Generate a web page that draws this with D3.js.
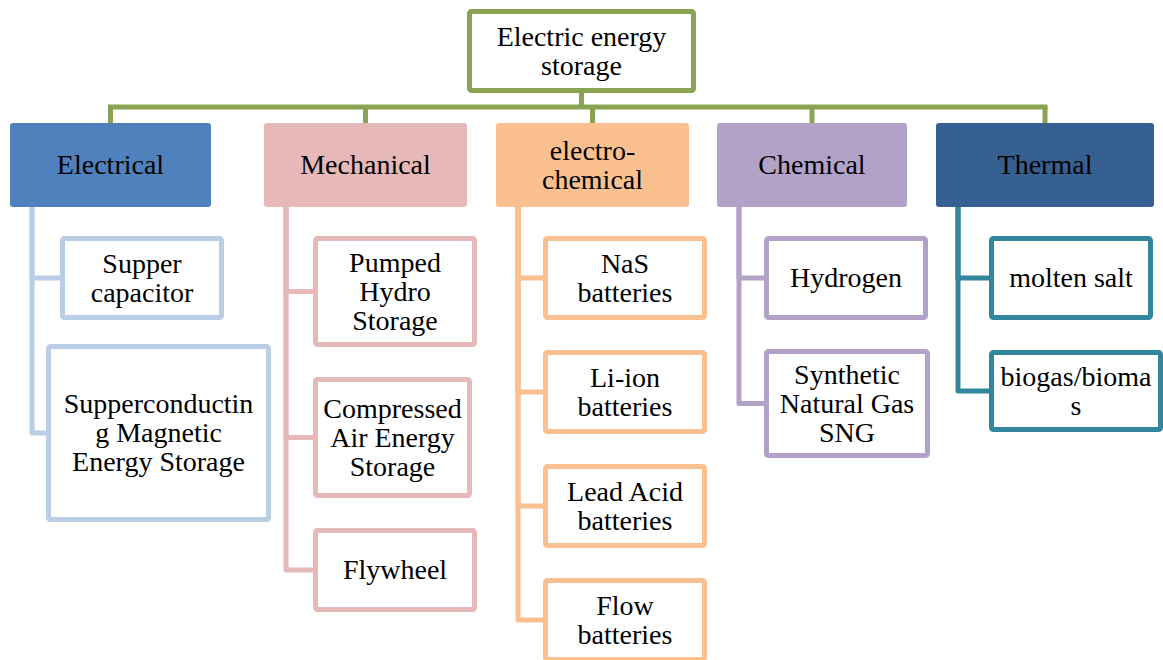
<!DOCTYPE html>
<html>
<head>
<meta charset="utf-8">
<script src="https://cdn.jsdelivr.net/npm/d3@7"></script>
<style>
  body { margin: 0; background: #fff; }
  svg text { font-family: "Liberation Serif", serif; font-size: 28px; fill: #000; }
</style>
</head>
<body>
<div id="chart"></div>
<script>
// labels ("\n" = line break as wrapped in the original boxes)
const rootLabel = "Electric energy\nstorage";
const categories = ["Electrical", "Mechanical", "electro-\nchemical", "Chemical", "Thermal"];
const electricalItems = ["Supper\ncapacitor", "Supperconductin\ng Magnetic\nEnergy Storage"];
const mechanicalItems = ["Pumped\nHydro\nStorage", "Compressed\nAir Energy\nStorage", "Flywheel"];
const electrochemicalItems = ["NaS\nbatteries", "Li-ion\nbatteries", "Lead Acid\nbatteries", "Flow\nbatteries"];
const chemicalItems = ["Hydrogen", "Synthetic\nNatural Gas\nSNG"];
const thermalItems = ["molten salt", "biogas/bioma\ns"];
const itemsByCategory = [electricalItems, mechanicalItems, electrochemicalItems, chemicalItems, thermalItems];

// layout / style
const width = 1163, height = 660;
const colX = d3.scaleOrdinal().domain(categories).range([10, 264, 496, 717, 936]);
const colW = d3.scaleOrdinal().domain(categories).range([201, 203, 193, 190, 218]);
const colGap = d3.scaleOrdinal().domain(categories).range([24, 30, 30, 29, 30]);
const childDx = d3.scaleOrdinal().domain(categories).range([50, 49, 47, 47, 53]);
const fill = d3.scaleOrdinal().domain(categories).range(["#4F81BD", "#E6B9B8", "#FAC090", "#B3A2C7", "#376092"]);
const branch = d3.scaleOrdinal().domain(categories).range(["#B9CDE5", "#E6B9B8", "#FAC090", "#B3A2C7", "#31859C"]);
const rootColor = "#8AA352";
const sw = 5, lineH = 29, baseOff = 9;
const catTop = 123, catH = 84, rowTop = 236, busY = 107;
const boxOverride = {
  "Supperconductin\ng Magnetic\nEnergy Storage": { dx: 36, w: 225, h: 178 },
  "Compressed\nAir Energy\nStorage": { w: 159, h: 121 },
  "Synthetic\nNatural Gas\nSNG": { w: 166, h: 109 },
  "biogas/bioma\ns": { w: 174, h: 82 }
};

const svg = d3.select("#chart").append("svg")
  .attr("width", width).attr("height", height);

function addText(g, label, cx, cy) {
  const lines = label.split("\n");
  g.append("text")
    .attr("text-anchor", "middle")
    .selectAll("tspan").data(lines).join("tspan")
    .attr("x", cx)
    .attr("y", (d, i) => cy + baseOff + (i - (lines.length - 1) / 2) * lineH)
    .text(d => d);
}

// root
const root = { x: 467, y: 9, w: 229, h: 84 };
const rootCx = root.x + root.w / 2;

const lines = svg.append("g").attr("fill", "none").attr("stroke-width", sw);
lines.append("path")
  .attr("stroke", rootColor)
  .attr("d", `M${rootCx},${root.y + root.h}V${busY}`);
lines.append("path")
  .attr("stroke", rootColor)
  .attr("stroke-linecap", "square")
  .attr("d", `M${colX(categories[0]) + colW(categories[0]) / 2},${busY}H${colX(categories[4]) + colW(categories[4]) / 2}`);
lines.selectAll(".drop").data(categories).join("path")
  .attr("stroke", rootColor)
  .attr("d", d => `M${colX(d) + colW(d) / 2},${busY}V${catTop}`);

svg.append("rect")
  .attr("x", root.x + sw / 2).attr("y", root.y + sw / 2)
  .attr("width", root.w - sw).attr("height", root.h - sw)
  .attr("rx", 2).attr("fill", "#fff").attr("stroke", rootColor).attr("stroke-width", sw);
addText(svg, rootLabel, rootCx, root.y + root.h / 2);

// categories and their children
categories.forEach((cat, ci) => {
  const g = svg.append("g");
  const x0 = colX(cat), w0 = colW(cat);
  const trunkX = x0 + 22;

  // stack child boxes
  let top = rowTop;
  const boxes = itemsByCategory[ci].map(label => {
    const o = boxOverride[label] || {};
    const nLines = label.split("\n").length;
    const b = {
      label,
      x: x0 + (o.dx ?? childDx(cat)),
      y: top,
      w: o.w ?? 164,
      h: o.h ?? (nLines > 2 ? 111 : 84)
    };
    top += b.h + colGap(cat);
    return b;
  });

  g.selectAll(".link").data(boxes).join("path")
    .attr("fill", "none")
    .attr("stroke", branch(cat))
    .attr("stroke-width", sw)
    .attr("stroke-linejoin", "round")
    .attr("d", b => `M${trunkX},${catTop + catH}V${b.y + b.h / 2}H${b.x + sw}`);

  g.append("rect")
    .attr("x", x0).attr("y", catTop).attr("width", w0).attr("height", catH)
    .attr("rx", 3).attr("fill", fill(cat));
  addText(g, cat, x0 + w0 / 2, catTop + catH / 2);

  const nodes = g.selectAll(".node").data(boxes).join("g");
  nodes.append("rect")
    .attr("x", b => b.x + sw / 2).attr("y", b => b.y + sw / 2)
    .attr("width", b => b.w - sw).attr("height", b => b.h - sw)
    .attr("rx", 2).attr("fill", "#fff")
    .attr("stroke", branch(cat)).attr("stroke-width", sw);
  nodes.each(function (b) { addText(d3.select(this), b.label, b.x + b.w / 2, b.y + b.h / 2); });
});
</script>
</body>
</html>
